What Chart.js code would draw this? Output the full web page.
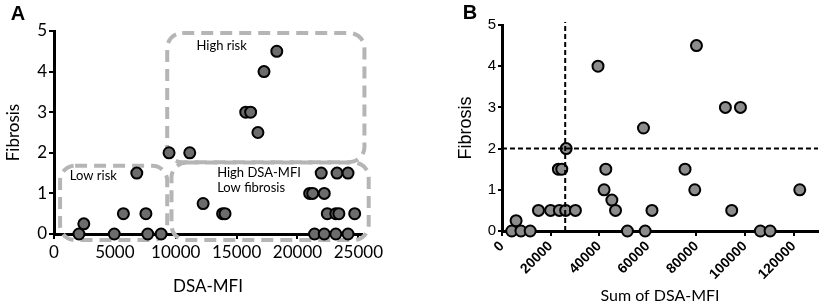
<!DOCTYPE html>
<html>
<head>
<meta charset="utf-8">
<script src="https://cdn.jsdelivr.net/npm/chart.js@4.4.1/dist/chart.umd.min.js"></script>
<style>
  body { margin: 0; background: #fff; }
  .panel { position: absolute; top: 0; width: 413px; height: 305px; }
</style>
</head>
<body>
<div class="panel" style="left:0"><canvas id="chartA" width="413" height="305"></canvas></div>
<div class="panel" style="left:413px"><canvas id="chartB" width="413" height="305"></canvas></div>
<script>
// panel A: DSA-MFI vs fibrosis
const mfiA = [2050, 2450, 4950, 5700, 6800, 7550, 7700, 8800, 9450, 11150, 12250, 13850, 14050,
  15750, 16150, 16750, 17250, 18300, 21000, 21250, 21400, 21950, 22200, 22200, 22450, 23150,
  23400, 23250, 23150, 24150, 24150, 24700];
const fibA = [0, 0.25, 0, 0.5, 1.5, 0.5, 0, 0, 2, 2, 0.75, 0.5, 0.5,
  3, 3, 2.5, 4, 4.5, 1, 1, 0, 1.5, 1, 0, 0.5, 0.5,
  0.5, 1.5, 0, 1.5, 0, 0.5];

// panel B: sum of DSA-MFI vs fibrosis
const sumB = [4000, 5800, 7800, 11600, 15000, 20000, 23200, 24600, 23600, 26200, 26400, 30200,
  39500, 42000, 42700, 45200, 46700, 51600, 58200, 58900, 61700, 75300, 79300, 80000,
  91900, 98100, 94500, 106300, 110300, 122500];
const fibB = [0, 0.25, 0, 0, 0.5, 0.5, 1.5, 1.5, 0.5, 0.5, 2, 0.5,
  4, 1, 1.5, 0.75, 0.5, 0, 2.5, 0, 0.5, 1.5, 1, 4.5,
  3, 3, 0.5, 0, 0, 1];

const ticksA = [0, 5000, 10000, 15000, 20000, 25000];
const ticksB = [0, 20000, 40000, 60000, 80000, 100000, 120000];
const ticksY = [0, 1, 2, 3, 4, 5];

// cut-offs drawn as dashed lines in B
const cutMfi = 26000;
const cutFib = 2;

// risk regions in A (data units)
const boxes = [
  { x0: 9300, x1: 25500, y0: 1.77, y1: 4.95 },
  { x0: 500, x1: 9300, y0: -0.15, y1: 1.68 },
  { x0: 9650, x1: 25850, y0: -0.15, y1: 1.76 }
];
const boxTexts = [
  { x: 11700, y: 4.63, lines: ['High risk'] },
  { x: 1300, y: 1.43, lines: ['Low risk'] },
  { x: 13400, y: 1.5, lines: ['High DSA-MFI', 'Low fibrosis'] }
];

function toPoints(xs, ys) {
  return xs.map((v, i) => ({ x: v, y: ys[i] }));
}

const panelLetter = {
  id: 'panelLetter',
  afterDraw(chart, args, opts) {
    const ctx = chart.ctx;
    ctx.save();
    ctx.font = 'bold 20px "Liberation Sans"';
    ctx.fillStyle = '#000';
    ctx.textAlign = 'center';
    ctx.textBaseline = 'middle';
    ctx.fillText(opts.text, opts.x, opts.y);
    ctx.restore();
  }
};

const riskBoxes = {
  id: 'riskBoxes',
  beforeDatasetsDraw(chart) {
    const ctx = chart.ctx;
    const x = chart.scales.x, y = chart.scales.y;
    ctx.save();
    ctx.strokeStyle = '#b5b5b5';
    ctx.lineWidth = 4;
    ctx.setLineDash([12, 7]);
    boxes.forEach(b => {
      const l = x.getPixelForValue(b.x0), r = x.getPixelForValue(b.x1);
      const t = y.getPixelForValue(b.y1), btm = y.getPixelForValue(b.y0);
      ctx.beginPath();
      ctx.roundRect(l, t, r - l, btm - t, 15);
      ctx.stroke();
    });
    ctx.setLineDash([]);
    ctx.fillStyle = '#000';
    ctx.font = '13px Lato';
    ctx.textBaseline = 'middle';
    boxTexts.forEach(tx => {
      tx.lines.forEach((line, i) => {
        ctx.fillText(line, x.getPixelForValue(tx.x), y.getPixelForValue(tx.y) + i * 15);
      });
    });
    ctx.restore();
  }
};

function keepTicks(list) {
  return scale => { scale.ticks = list.map(v => ({ value: v })); };
}
const plain = v => String(v);

new Chart(document.getElementById('chartA'), {
  type: 'scatter',
  data: {
    datasets: [{
      data: toPoints(mfiA, fibA),
      backgroundColor: '#6c6c6c',
      borderColor: '#000',
      borderWidth: 2,
      pointRadius: 5.5,
      clip: false
    }]
  },
  options: {
    responsive: false,
    animation: false,
    layout: { padding: { top: 31, right: 51, left: 0, bottom: 0 } },
    plugins: {
      legend: { display: false },
      tooltip: { enabled: false },
      panelLetter: { text: 'A', x: 18, y: 14 }
    },
    scales: {
      x: {
        type: 'linear', min: 0, max: 25300,
        afterBuildTicks: keepTicks(ticksA),
        afterFit: s => { s.height = 71; },
        ticks: { color: '#000', font: { family: 'Lato', size: 17 }, padding: 3, maxRotation: 0, autoSkip: false, callback: plain },
        grid: { drawOnChartArea: false, color: '#000', lineWidth: 2, tickLength: 5 },
        border: { color: '#000', width: 3 },
        title: { display: true, text: 'DSA-MFI', color: '#000', font: { family: 'Lato', size: 17 }, padding: { top: 0, bottom: 8 } }
      },
      y: {
        min: 0, max: 5,
        afterBuildTicks: keepTicks(ticksY),
        afterFit: s => { s.width = 54; },
        ticks: { color: '#000', font: { family: 'Lato', size: 17 }, padding: 2, callback: plain },
        grid: { drawOnChartArea: false, color: '#000', lineWidth: 2, tickLength: 5 },
        border: { color: '#000', width: 3 },
        title: { display: true, text: 'Fibrosis', color: '#000', font: { family: 'Lato', size: 17 }, padding: { top: 3, bottom: 0 } }
      }
    }
  },
  plugins: [panelLetter, riskBoxes]
});

new Chart(document.getElementById('chartB'), {
  type: 'scatter',
  data: {
    datasets: [{
      data: [{ x: cutMfi, y: 0 }, { x: cutMfi, y: 5.07 }],
      showLine: true, borderColor: '#000', borderWidth: 2, borderDash: [5, 3],
      pointRadius: 0, clip: false, order: 0
    }, {
      data: [{ x: 0, y: cutFib }, { x: 130000, y: cutFib }],
      showLine: true, borderColor: '#000', borderWidth: 2, borderDash: [5, 3],
      pointRadius: 0, clip: false, order: 0
    }, {
      data: toPoints(sumB, fibB),
      backgroundColor: '#8c8c8c',
      borderColor: '#000',
      borderWidth: 2,
      pointRadius: 5.5,
      clip: false,
      order: 1
    }]
  },
  options: {
    responsive: false,
    animation: false,
    layout: { padding: { top: 25, right: 8, left: 0, bottom: 0 } },
    plugins: {
      legend: { display: false },
      tooltip: { enabled: false },
      panelLetter: { text: 'B', x: 57, y: 13 }
    },
    scales: {
      x: {
        type: 'linear', min: 0, max: 130000,
        afterBuildTicks: keepTicks(ticksB),
        afterFit: s => { s.height = 74; },
        ticks: { color: '#000', font: { family: 'Liberation Sans', size: 14, weight: 'bold' }, padding: 2,
          minRotation: 45, maxRotation: 45, autoSkip: false, callback: plain },
        grid: { drawOnChartArea: false, color: '#000', lineWidth: 2, tickLength: 5 },
        border: { color: '#000', width: 3 },
        title: { display: true, text: 'Sum of DSA-MFI', color: '#000', font: { family: 'Lato', size: 16 }, padding: { top: 0, bottom: 0 } }
      },
      y: {
        min: 0, max: 5,
        afterBuildTicks: keepTicks(ticksY),
        afterFit: s => { s.width = 89; },
        ticks: { color: '#000', font: { family: 'Liberation Sans', size: 15 }, padding: 2, callback: plain },
        grid: { drawOnChartArea: false, color: '#000', lineWidth: 2, tickLength: 4 },
        border: { color: '#000', width: 3 },
        title: { display: true, text: 'Fibrosis', color: '#000', font: { family: 'Liberation Sans', size: 18 }, padding: { top: 42, bottom: 0 } }
      }
    }
  },
  plugins: [panelLetter]
});
</script>
</body>
</html>
